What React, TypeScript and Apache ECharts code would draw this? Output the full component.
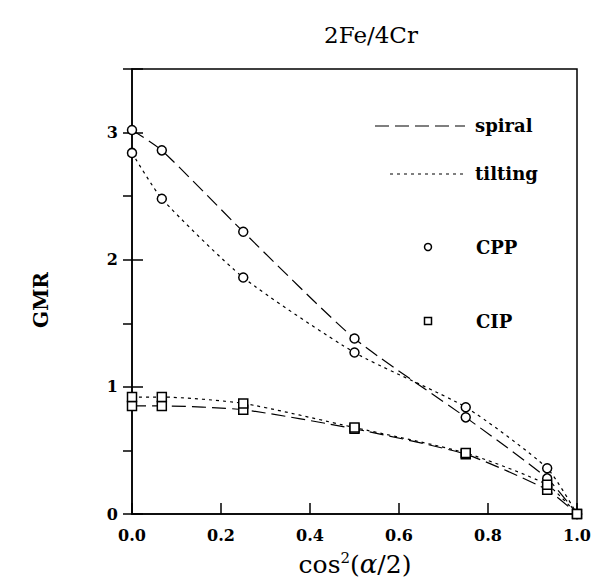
import React, { useEffect, useRef } from "react";
import * as echarts from "echarts";

const xValues = [0, 0.067, 0.25, 0.5, 0.75, 0.933, 1.0];
const cppSpiral = [3.02, 2.86, 2.22, 1.38, 0.76, 0.28, 0];
const cppTilting = [2.84, 2.48, 1.86, 1.27, 0.84, 0.36, 0];
const cipSpiral = [0.85, 0.85, 0.82, 0.67, 0.47, 0.19, 0];
const cipTilting = [0.92, 0.92, 0.87, 0.68, 0.48, 0.23, 0];
const xTicks = ["0.0", "0.2", "0.4", "0.6", "0.8", "1.0"];
const yTicks = ["0", "1", "2", "3"];

const FONT = "'DejaVu Serif', 'Liberation Serif', serif";

const pairs = (ys: number[]) => xValues.map((x, i) => [x, ys[i]]);

export default function App() {
  const ref = useRef<HTMLDivElement>(null);
  useEffect(() => {
    if (!ref.current) return;
    const chart = echarts.init(ref.current, null, { renderer: "svg" });
    const dashed = [14, 6];
    const dotted = [3, 4];
    const mkSeries = (name: string, ys: number[], dash: number[], symbol: string) => ({
      name,
      type: "line",
      data: pairs(ys),
      smooth: 0.2,
      symbol,
      symbolSize: 9,
      showSymbol: true,
      lineStyle: { color: "#000", width: 1.2, type: dash },
      itemStyle: { color: "#fff", borderColor: "#000", borderWidth: 1.5 },
      z: 3,
    });
    chart.setOption({
      animation: false,
      backgroundColor: "#fff",
      title: {
        text: "2Fe/4Cr",
        left: 358,
        top: 10,
        textAlign: "center",
        textStyle: { fontFamily: FONT, fontSize: 23, fontWeight: "normal", color: "#000" },
      },
      grid: {
        left: 124,
        right: 20,
        top: 61,
        bottom: 66,
        show: true,
        borderColor: "#000",
        borderWidth: 1.5,
        backgroundColor: "transparent",
      },
      xAxis: {
        type: "value",
        min: 0,
        max: 1,
        interval: 0.2,
        splitLine: { show: false },
        axisLine: { show: true, lineStyle: { color: "#000", width: 1.5 } },
        axisTick: { show: true, inside: true, length: 11, lineStyle: { color: "#000", width: 1.5 } },
        axisLabel: {
          formatter: (v: number) => xTicks[Math.round(v / 0.2)] ?? "",
          fontFamily: FONT,
          fontSize: 16,
          fontWeight: "bold",
          color: "#000",
          margin: 13,
        },
      },
      yAxis: [
        {
          type: "value",
          min: 0,
          max: 3.5,
          interval: 0.5,
          splitLine: { show: false },
          axisLine: { show: true, lineStyle: { color: "#000", width: 1.5 } },
          axisTick: { show: true, inside: false, length: 9, lineStyle: { color: "#000", width: 1.5 } },
          axisLabel: {
            formatter: (v: number) => (Math.abs(v - Math.round(v)) < 1e-6 && v < 3.5 ? yTicks[Math.round(v)] ?? "" : ""),
            fontFamily: FONT,
            fontSize: 16,
            fontWeight: "bold",
            color: "#000",
            margin: 14,
          },
        },
        {
          type: "value",
          position: "left",
          min: 0,
          max: 3.5,
          interval: 1,
          splitLine: { show: false },
          axisLine: { show: false },
          axisTick: { show: true, inside: true, length: 11, lineStyle: { color: "#000", width: 1.5 } },
          axisLabel: { show: false },
        },
      ],
      series: [
        mkSeries("CPP spiral", cppSpiral, dashed, "circle"),
        mkSeries("CPP tilting", cppTilting, dotted, "circle"),
        mkSeries("CIP spiral", cipSpiral, dashed, "rect"),
        mkSeries("CIP tilting", cipTilting, dotted, "rect"),
      ],
      graphic: [
        {
          type: "line",
          shape: { x1: 367, y1: 118, x2: 457, y2: 118 },
          style: { stroke: "#000", lineWidth: 1.2, lineDash: dashed },
        },
        {
          type: "text",
          x: 467,
          y: 117,
          style: { text: "spiral", font: `bold 18px ${FONT}`, fill: "#000", verticalAlign: "middle" },
        },
        {
          type: "line",
          shape: { x1: 382, y1: 166, x2: 457, y2: 166 },
          style: { stroke: "#000", lineWidth: 1.2, lineDash: dotted },
        },
        {
          type: "text",
          x: 467,
          y: 165,
          style: { text: "tilting", font: `bold 18px ${FONT}`, fill: "#000", verticalAlign: "middle" },
        },
        {
          type: "circle",
          shape: { cx: 420, cy: 239, r: 3.5 },
          style: { fill: "#fff", stroke: "#000", lineWidth: 1.5 },
        },
        {
          type: "text",
          x: 468,
          y: 239,
          style: { text: "CPP", font: `bold 18px ${FONT}`, fill: "#000", verticalAlign: "middle" },
        },
        {
          type: "rect",
          shape: { x: 416.5, y: 309.5, width: 7, height: 7 },
          style: { fill: "#fff", stroke: "#000", lineWidth: 1.5 },
        },
        {
          type: "text",
          x: 468,
          y: 313,
          style: { text: "CIP", font: `bold 18px ${FONT}`, fill: "#000", verticalAlign: "middle" },
        },
        {
          type: "text",
          x: 33,
          y: 292,
          rotation: Math.PI / 2,
          style: {
            text: "GMR",
            font: `bold 20px ${FONT}`,
            fill: "#000",
            align: "center",
            verticalAlign: "middle",
          },
        },
        {
          type: "text",
          x: 347,
          y: 556,
          style: {
            text: "{n|cos}{s|2}{n|(}{a|α}{n|/2)}",
            align: "center",
            verticalAlign: "middle",
            rich: {
              n: { fontFamily: FONT, fontSize: 25, fill: "#000", color: "#000" },
              s: { fontFamily: FONT, fontSize: 15, fill: "#000", color: "#000", verticalAlign: "top", padding: [0, 0, 12, 0] },
              a: { fontFamily: FONT, fontSize: 26, fontStyle: "italic", fill: "#000", color: "#000" },
            },
          },
        },
      ],
    });
    return () => chart.dispose();
  }, []);
  return <div ref={ref} style={{ width: 589, height: 572 }} />;
}
